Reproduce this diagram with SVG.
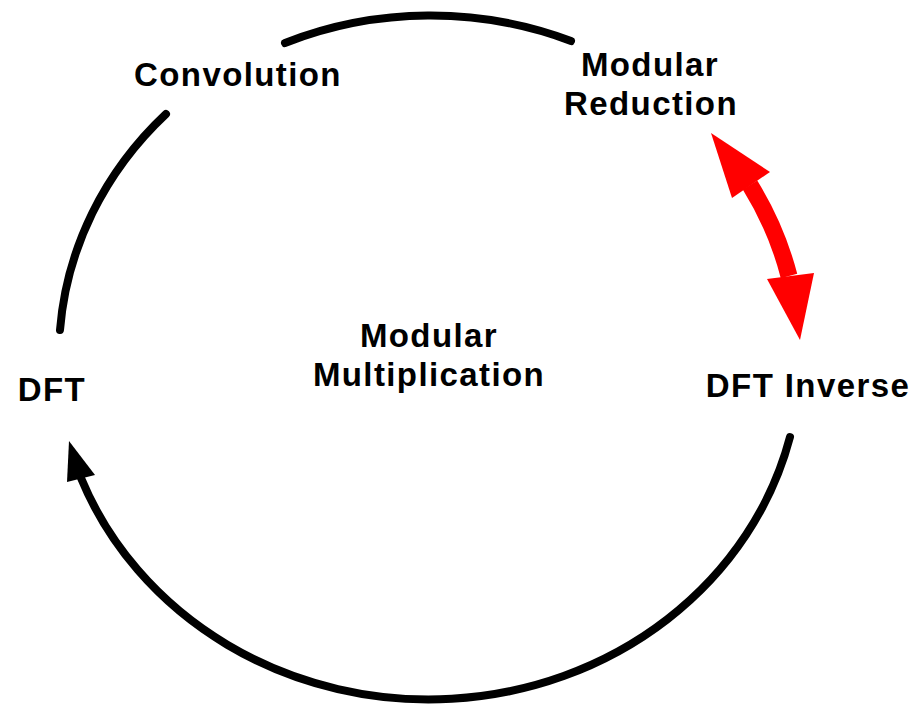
<svg xmlns="http://www.w3.org/2000/svg" width="918" height="707" viewBox="0 0 918 707">
  <style>
    .lbl { font-family: "Liberation Sans", Arial, sans-serif; font-weight: bold; font-size: 33px; letter-spacing: 1.4px; fill: #000; text-anchor: middle; }
    .arc { fill: none; stroke: #000; stroke-width: 8; stroke-linecap: round; }
    .head { fill: #000; stroke: none; }
    .red { fill: none; stroke: #ff0000; stroke-width: 17; }
    .redhead { fill: #ff0000; stroke: none; }
  </style>
  <rect width="918" height="707" fill="#ffffff"/>

  <!-- cycle arcs on an ellipse centred at (428,358), radii 372 x 344 -->
  <g id="connectors">
    <path class="arc" d="M285,43 A372,344 0 0 1 571,41"/>
    <path class="arc" d="M166,114 A372,344 0 0 0 60,330"/>
    <path class="arc" d="M790,437 A372,344 0 0 1 81,478"/>
    <polygon class="head" points="69,441 67,482 95,475"/>
    <!-- two-headed red arrow -->
    <path class="red" d="M750,185 A372,344 0 0 1 789,276"/>
    <polygon class="redhead" points="711,133 732,198 770,172"/>
    <polygon class="redhead" points="800,340 767,279 814,273"/>
  </g>

  <g id="convolution">
    <text class="lbl" x="238" y="86">Convolution</text>
  </g>
  <g id="modular-reduction">
    <text class="lbl" x="650" y="76">Modular</text>
    <text class="lbl" x="651" y="115">Reduction</text>
  </g>
  <g id="modular-multiplication">
    <text class="lbl" x="429" y="347">Modular</text>
    <text class="lbl" x="429" y="386">Multiplication</text>
  </g>
  <g id="dft">
    <text class="lbl" x="52" y="401">DFT</text>
  </g>
  <g id="dft-inverse">
    <text class="lbl" x="808" y="397">DFT Inverse</text>
  </g>
</svg>
